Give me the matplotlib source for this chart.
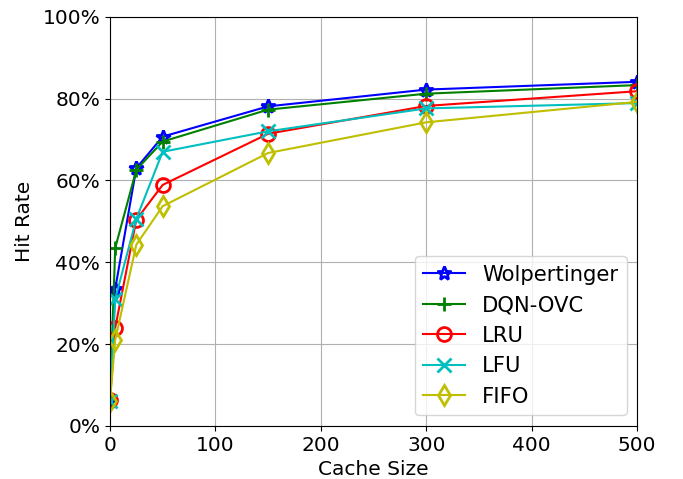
import matplotlib as mpl
mpl.use('agg')
import matplotlib.pyplot as plt
from matplotlib.ticker import PercentFormatter

cache_sizes = [0, 5, 25, 50, 150, 300, 500]

wolpertinger = [6.0, 33.5, 63.0, 70.7, 78.1, 82.2, 84.1]
dqn_ovc = [6.5, 43.5, 62.6, 69.5, 77.3, 81.2, 83.3]
lru = [6.3, 24.0, 50.4, 58.9, 71.4, 78.2, 81.8]
lfu = [6.0, 31.0, 50.6, 67.0, 72.0, 77.6, 78.9]
fifo = [6.0, 21.0, 44.3, 53.7, 66.7, 74.2, 79.2]

series = [
    ('Wolpertinger', wolpertinger, 'b', '*'),
    ('DQN-OVC', dqn_ovc, 'g', '+'),
    ('LRU', lru, 'r', 'o'),
    ('LFU', lfu, 'c', 'x'),
    ('FIFO', fifo, 'y', 'd'),
]


def main():
    plt.rcParams['font.size'] = 14.5
    fig, axes = plt.subplots(figsize=(6.83, 4.79), dpi=100)
    fig.subplots_adjust(left=0.161, right=0.933, bottom=0.111, top=0.965)

    for name, vals, color, marker in series:
        axes.plot(cache_sizes, vals, color=color, marker=marker, markersize=10,
                  markerfacecolor='none', markeredgewidth=2, linewidth=1.5,
                  label=name)

    axes.set_xlim(0, 500)
    axes.set_ylim(0, 100)
    axes.set_yticks([0, 20, 40, 60, 80, 100])
    axes.yaxis.set_major_formatter(PercentFormatter(decimals=0))
    axes.grid(True)
    axes.set_xlabel('Cache Size')
    axes.set_ylabel('Hit Rate', labelpad=6)
    axes.legend(loc='lower right', fontsize=15.2)

    plt.savefig('out.png')


if __name__ == '__main__':
    main()
